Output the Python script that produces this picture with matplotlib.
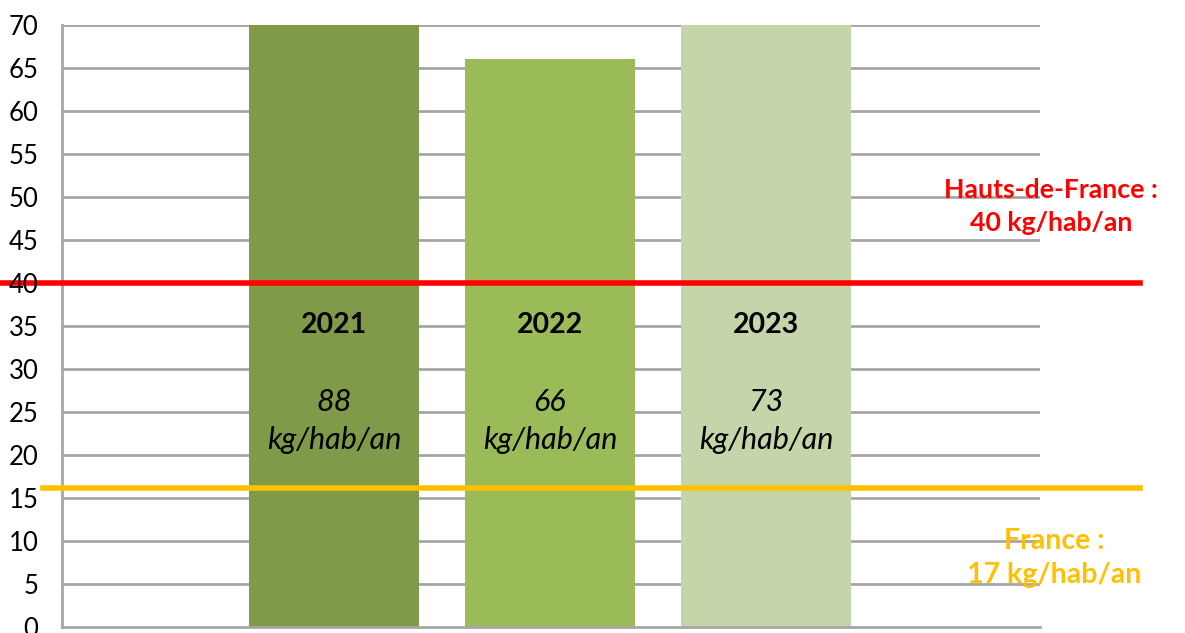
import matplotlib.pyplot as plt
import matplotlib.transforms as mtransforms

# Data
years = ['2021', '2022', '2023']
values = [88, 66, 73]
value_labels = ['88', '66', '73']
bar_colors = ['#7F9B4A', '#9BBB59', '#C5D5AA']

hdf_level = 40
hdf_label = 'Hauts-de-France :\n40 kg/hab/an'
france_level = 16.2
france_label = 'France :\n17 kg/hab/an'

yticks = list(range(0, 75, 5))

plt.rcParams['font.family'] = ['Lato', 'DejaVu Sans']

fig = plt.figure(figsize=(11.85, 6.33), dpi=100)
ax = fig.add_axes([62 / 1185, 6 / 633, 978 / 1185, 602 / 633])

x = list(range(len(years)))
ax.bar(x, values, width=0.787, color=bar_colors, zorder=2)

ax.set_xlim(-1.26, 3.27)
ax.set_ylim(0, 70)
ax.set_yticks(yticks)
ax.set_xticks([])
ax.tick_params(axis='y', length=0, labelsize=18.5, pad=17)

# gridlines drawn by hand so the tick labels can sit above the red line
for t in yticks[1:]:
    ax.axhline(t, color='#A6A6A6', linewidth=2, zorder=1)
ax.yaxis.set_zorder(5)

for side in ['top', 'right']:
    ax.spines[side].set_visible(False)
for side in ['left', 'bottom']:
    ax.spines[side].set_color('#A6A6A6')
    ax.spines[side].set_linewidth(2)

# Labels inside bars
for xi, yr, lab in zip(x, years, value_labels):
    ax.text(xi, 35.1, yr, ha='center', va='center', fontsize=20.5,
            fontweight='bold', zorder=4)
    ax.text(xi, 23.95, lab + '\nkg/hab/an', ha='center', va='center',
            fontsize=22, style='italic', linespacing=1.4, zorder=4)

# Reference lines extending past the axes
trans = mtransforms.blended_transform_factory(ax.transAxes, ax.transData)
ax.plot([-0.063, 1.102], [hdf_level, hdf_level], transform=trans,
        color='#FF0000', linewidth=4, clip_on=False, zorder=3)
ax.plot([-0.019, 1.102], [france_level, france_level], transform=trans,
        color='#FFC000', linewidth=4, clip_on=False, zorder=3)

ax.text(1.011, 48.95, hdf_label, transform=trans, ha='center', va='center',
        fontsize=19.2, fontweight='bold', color='#FF0000', linespacing=1.45,
        clip_on=False, zorder=4)
ax.text(1.015, 8.0, france_label, transform=trans, ha='center', va='center',
        fontsize=20.5, fontweight='bold', color='#FFC000', linespacing=1.4,
        clip_on=False, zorder=4)

plt.savefig('out.png', dpi=100)
